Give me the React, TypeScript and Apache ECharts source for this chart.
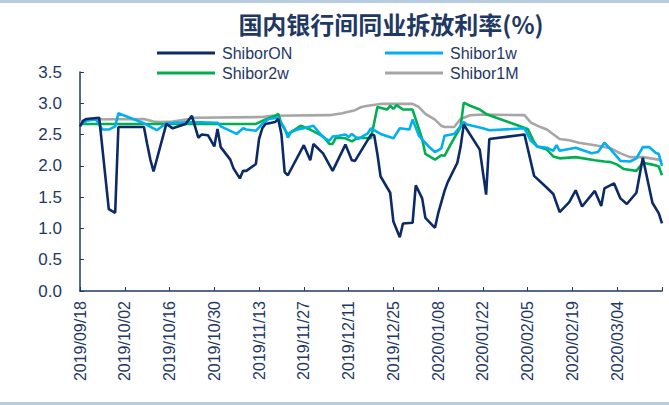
import React, { useEffect, useRef } from "react";
import * as echarts from "echarts";

// ---- Data ----
const startDate = "2019/09/18";
const endDate = "2020/03/18";

const onDates = ["2019/09/18","2019/09/19","2019/09/20","2019/09/24","2019/09/27","2019/09/29","2019/09/30","2019/10/08","2019/10/09","2019/10/10","2019/10/11","2019/10/15","2019/10/17","2019/10/21","2019/10/23","2019/10/25","2019/10/26","2019/10/28","2019/10/30","2019/10/31","2019/11/01","2019/11/04","2019/11/05","2019/11/07","2019/11/08","2019/11/09","2019/11/12","2019/11/13","2019/11/14","2019/11/15","2019/11/18","2019/11/19","2019/11/20","2019/11/21","2019/11/22","2019/11/27","2019/11/29","2019/11/30","2019/12/03","2019/12/06","2019/12/10","2019/12/12","2019/12/13","2019/12/18","2019/12/19","2019/12/20","2019/12/21","2019/12/24","2019/12/25","2019/12/27","2019/12/28","2019/12/31","2020/01/01","2020/01/03","2020/01/04","2020/01/07","2020/01/08","2020/01/10","2020/01/11","2020/01/14","2020/01/15","2020/01/16","2020/01/21","2020/01/23","2020/01/24","2020/02/04","2020/02/07","2020/02/11","2020/02/13","2020/02/15","2020/02/18","2020/02/20","2020/02/22","2020/02/26","2020/02/28","2020/02/29","2020/03/03","2020/03/05","2020/03/07","2020/03/10","2020/03/12","2020/03/15","2020/03/17","2020/03/18"];
const onValues = [2.63,2.72,2.75,2.77,1.31,1.25,2.62,2.62,2.35,2.10,1.91,2.67,2.60,2.67,2.80,2.45,2.50,2.49,2.31,2.59,2.30,2.10,1.96,1.80,1.92,1.92,2.03,2.43,2.60,2.67,2.70,2.75,2.50,1.90,1.85,2.33,2.09,2.35,2.20,1.92,2.34,2.09,2.08,2.50,2.49,2.19,1.83,1.57,1.11,0.86,1.08,1.09,1.69,1.48,1.17,1.01,1.24,1.60,1.74,2.05,2.30,2.66,2.26,1.54,2.43,2.50,1.84,1.65,1.55,1.26,1.42,1.61,1.35,1.60,1.36,1.64,1.72,1.48,1.39,1.57,2.13,1.41,1.24,1.08];

const w1Dates = ["2019/09/18","2019/09/20","2019/09/23","2019/09/25","2019/09/27","2019/09/29","2019/09/30","2019/10/08","2019/10/12","2019/10/15","2019/10/23","2019/10/31","2019/11/01","2019/11/06","2019/11/08","2019/11/09","2019/11/12","2019/11/14","2019/11/16","2019/11/19","2019/11/21","2019/11/22","2019/11/23","2019/11/25","2019/11/27","2019/11/30","2019/12/03","2019/12/05","2019/12/06","2019/12/08","2019/12/10","2019/12/11","2019/12/12","2019/12/14","2019/12/17","2019/12/18","2019/12/21","2019/12/25","2019/12/27","2019/12/30","2019/12/31","2020/01/02","2020/01/05","2020/01/07","2020/01/09","2020/01/10","2020/01/13","2020/01/16","2020/01/17","2020/01/22","2020/01/24","2020/02/04","2020/02/06","2020/02/08","2020/02/11","2020/02/13","2020/02/14","2020/02/15","2020/02/20","2020/02/25","2020/02/27","2020/02/29","2020/03/02","2020/03/05","2020/03/08","2020/03/10","2020/03/12","2020/03/14","2020/03/16","2020/03/17","2020/03/18"];
const w1Values = [2.65,2.72,2.74,2.58,2.58,2.63,2.84,2.68,2.57,2.68,2.70,2.69,2.63,2.51,2.60,2.58,2.56,2.67,2.75,2.77,2.60,2.45,2.54,2.58,2.60,2.64,2.46,2.40,2.47,2.48,2.50,2.46,2.51,2.43,2.52,2.60,2.51,2.44,2.60,2.58,2.74,2.48,2.31,2.22,2.28,2.48,2.51,2.70,2.66,2.60,2.57,2.60,2.40,2.31,2.29,2.24,2.33,2.24,2.29,2.20,2.22,2.37,2.26,2.08,2.07,2.12,2.30,2.30,2.21,2.19,2.00];

const w2Dates = ["2019/09/18","2019/11/12","2019/11/15","2019/11/18","2019/11/19","2019/11/20","2019/11/22","2019/11/23","2019/11/26","2019/11/29","2019/12/03","2019/12/05","2019/12/06","2019/12/07","2019/12/10","2019/12/12","2019/12/14","2019/12/18","2019/12/20","2019/12/23","2019/12/24","2019/12/25","2019/12/26","2019/12/28","2019/12/31","2020/01/03","2020/01/04","2020/01/07","2020/01/09","2020/01/10","2020/01/12","2020/01/15","2020/01/16","2020/01/18","2020/01/21","2020/01/23","2020/01/24","2020/02/05","2020/02/07","2020/02/08","2020/02/11","2020/02/13","2020/02/15","2020/02/20","2020/02/26","2020/02/29","2020/03/02","2020/03/04","2020/03/06","2020/03/10","2020/03/12","2020/03/15","2020/03/17","2020/03/18"];
const w2Values = [2.67,2.67,2.74,2.80,2.83,2.67,2.50,2.54,2.64,2.58,2.47,2.35,2.35,2.45,2.44,2.39,2.45,2.44,2.94,2.90,2.96,2.91,2.97,2.90,2.90,2.43,2.19,2.10,2.17,2.16,2.35,2.62,3.01,2.96,2.90,2.83,2.81,2.59,2.38,2.31,2.26,2.15,2.12,2.14,2.09,2.07,2.06,2.02,1.95,1.92,2.05,2.02,1.99,1.85];

const m1Dates = ["2019/09/18","2019/09/20","2019/10/08","2019/10/11","2019/10/13","2019/10/17","2019/10/22","2019/10/24","2019/11/14","2019/11/17","2019/12/05","2019/12/09","2019/12/13","2019/12/15","2019/12/17","2019/12/21","2019/12/31","2020/01/02","2020/01/04","2020/01/07","2020/01/09","2020/01/10","2020/01/13","2020/01/15","2020/01/18","2020/01/22","2020/02/04","2020/02/06","2020/02/09","2020/02/11","2020/02/15","2020/02/18","2020/02/21","2020/02/26","2020/03/02","2020/03/05","2020/03/08","2020/03/12","2020/03/17","2020/03/18"];
const m1Values = [2.70,2.74,2.75,2.71,2.70,2.71,2.75,2.77,2.78,2.80,2.81,2.84,2.89,2.94,2.96,2.99,2.99,2.94,2.83,2.74,2.64,2.62,2.62,2.75,2.81,2.82,2.81,2.69,2.62,2.58,2.43,2.41,2.37,2.33,2.28,2.20,2.14,2.14,2.10,2.06];

const seriesNames = ["ShiborON", "Shibor1w", "Shibor2w", "Shibor1M"];
const seriesColors = ["#0C2A66", "#00B0F0", "#00B050", "#A6A6A6"];
const yTicks = [0, 0.5, 1.0, 1.5, 2.0, 2.5, 3.0, 3.5];
const titleText = "国内银行间同业拆放利率(%)";

function buildCalendar(start: string, end: string): string[] {
  const p = (s: string) => {
    const [y, m, d] = s.split("/").map(Number);
    return Date.UTC(y, m - 1, d);
  };
  const out: string[] = [];
  for (let t = p(start); t <= p(end); t += 86400000) {
    const dt = new Date(t);
    const mm = String(dt.getUTCMonth() + 1).padStart(2, "0");
    const dd = String(dt.getUTCDate()).padStart(2, "0");
    out.push(`${dt.getUTCFullYear()}/${mm}/${dd}`);
  }
  return out;
}

const pairs = (ds: string[], vs: number[]) => ds.map((d, i) => [d, vs[i]]);

export default function App() {
  const ref = useRef<HTMLDivElement>(null);
  useEffect(() => {
    if (!ref.current) return;
    const chart = echarts.init(ref.current, undefined, { renderer: "svg" });
    const categories = buildCalendar(startDate, endDate);
    const last = categories.length - 1;
    const navy = "#1F3864";
    const font = "'Liberation Sans', Arial, sans-serif";
    const seriesData = [
      pairs(onDates, onValues),
      pairs(w1Dates, w1Values),
      pairs(w2Dates, w2Values),
      pairs(m1Dates, m1Values),
    ];
    const legendPos = [
      { left: 157, top: 45 },
      { left: 385, top: 45 },
      { left: 157, top: 65 },
      { left: 385, top: 65 },
    ];
    const order = [3, 2, 1, 0];
    chart.setOption({
      animation: false,
      backgroundColor: "#ffffff",
      title: {
        text: titleText,
        left: 386,
        textAlign: "center",
        top: 6,
        textStyle: {
          fontFamily: "'Noto Sans CJK SC', sans-serif",
          fontWeight: "bold",
          fontSize: 24,
          color: navy,
        },
      },
      legend: seriesNames.map((n, i) => ({
        data: [n],
        left: legendPos[i].left,
        top: legendPos[i].top,
        icon: "rect",
        itemWidth: 58,
        itemHeight: 3,
        itemGap: 0,
        padding: 0,
        selectedMode: false,
        textStyle: { fontFamily: font, fontSize: 16, color: navy, padding: [0, 0, 0, 2] },
      })),
      grid: { left: 80, right: 7, top: 72, bottom: 114, containLabel: false },
      xAxis: {
        type: "category",
        data: categories,
        boundaryGap: false,
        axisLine: { lineStyle: { color: navy, width: 1.5 } },
        axisTick: {
          inside: true,
          length: 4,
          interval: (i: number) => i % 14 === 0 || i === last,
          lineStyle: { color: navy, width: 1 },
        },
        axisLabel: {
          interval: (i: number) => i % 14 === 0 && i < last,
          rotate: 90,
          margin: 10,
          fontFamily: font,
          fontSize: 16,
          color: navy,
        },
        splitLine: { show: false },
      },
      yAxis: {
        type: "value",
        min: yTicks[0],
        max: yTicks[yTicks.length - 1],
        interval: 0.5,
        axisLine: { show: true, lineStyle: { color: navy, width: 1.5 } },
        axisTick: { show: true, inside: true, length: 4, lineStyle: { color: navy } },
        axisLabel: {
          formatter: (v: number) => v.toFixed(1),
          fontFamily: font,
          fontSize: 17,
          color: navy,
          margin: 18,
        },
        splitLine: { show: false },
      },
      graphic: [
        { type: "rect", shape: { x: 0, y: 0, width: 669, height: 3 }, style: { fill: "#B8CCE0" } },
        { type: "rect", shape: { x: 0, y: 402, width: 669, height: 3 }, style: { fill: "#B8CCE0" } },
      ],
      series: order.map((i) => ({
        name: seriesNames[i],
        type: "line",
        data: seriesData[i],
        showSymbol: false,
        symbol: "none",
        lineStyle: { color: seriesColors[i], width: 2.6 },
        itemStyle: { color: seriesColors[i] },
        z: 10 - i,
      })),
    });
    return () => chart.dispose();
  }, []);
  return (
    <div
      ref={ref}
      style={{ position: "fixed", left: 0, top: 0, width: 669, height: 405, background: "#fff" }}
    />
  );
}
